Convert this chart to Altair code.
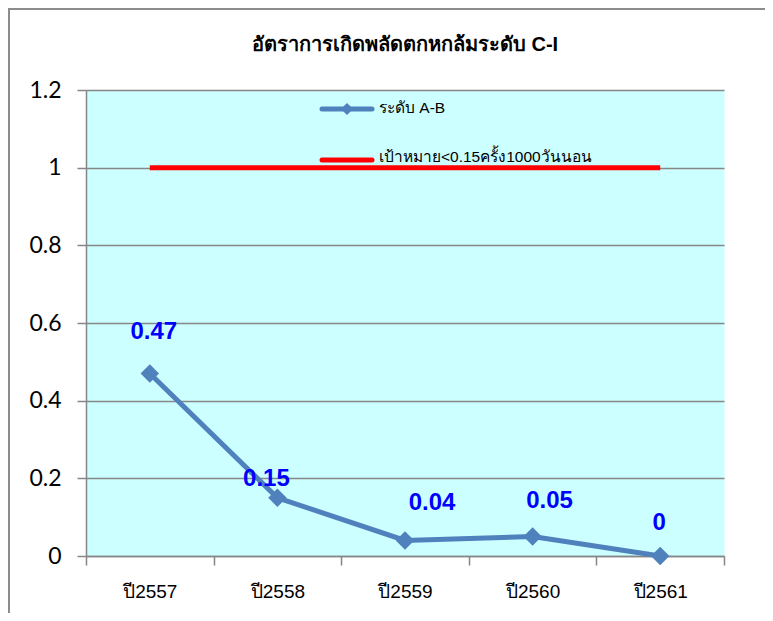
import altair as alt
import pandas as pd

years = ["ปี2557", "ปี2558", "ปี2559", "ปี2560", "ปี2561"]
rates = [0.47, 0.15, 0.04, 0.05, 0]
target = [1, 1, 1, 1, 1]
labels = ["0.47", "0.15", "0.04", "0.05", "0"]
y_ticks = [0, 0.2, 0.4, 0.6, 0.8, 1.0, 1.2]
chart_title = "อัตราการเกิดพลัดตกหกล้มระดับ C-I"
series_name = "ระดับ A-B"
target_name = "เป้าหมาย<0.15ครั้ง1000วันนอน"

# style: label nudges (dx, dy) in pixels relative to each point
label_nudge = [(4, -41), (-11, -19), (27, -37), (17, -36), (-1, -33)]

W, H = 638, 466
BLUE = "#4F81BD"
GRID = "#868686"

df = pd.DataFrame({"year": years, "rate": rates, "target": target, "label": labels})
one = pd.DataFrame({"a": [0]})

x = alt.X(
    "year:N", sort=years, title=None,
    scale=alt.Scale(type="band", paddingInner=0, paddingOuter=0),
    axis=alt.Axis(labelAngle=0, tickBand="extent", labelFontSize=19, labelFont="Liberation Sans",
                  labelColor="black", tickSize=9, tickColor=GRID, tickWidth=1.5,
                  domainColor=GRID, domainWidth=1.5, labelPadding=17, grid=False),
)
y_scale = alt.Scale(domain=[0, 1.2], nice=False)
y_axis = alt.Axis(values=y_ticks, format="~g", labelFontSize=23, labelFont="Lato",
                  labelColor="black", tickSize=9, tickColor=GRID, tickWidth=1.5,
                  domainColor=GRID, domainWidth=1.5, gridColor=GRID, gridWidth=1.5,
                  gridOpacity=1, labelPadding=16)
y_rate = alt.Y("rate:Q", scale=y_scale, title=None, axis=y_axis)

base = alt.Chart(df)

frame = alt.Chart(one).mark_rect(fill="transparent", stroke="#8c8c8c", strokeWidth=2).encode(
    x=alt.value(-77), x2=alt.value(W + 60), y=alt.value(-81), y2=alt.value(H + 80)
)

title_txt = alt.Chart(one).mark_text(fontSize=20, fontWeight="bold", font="Liberation Sans",
                                     color="black", align="center", baseline="middle").encode(
    x=alt.value(W / 2), y=alt.value(-45), text=alt.value(chart_title)
)

blue = base.mark_line(color=BLUE, strokeWidth=5).encode(x=x, y=y_rate)

red = base.mark_line(color="#FF0000", strokeWidth=5).encode(
    x=x, y=alt.Y("target:Q", scale=y_scale, title=None, axis=y_axis)
)

pts = base.mark_point(shape="diamond", filled=True, color=BLUE, size=340, opacity=1).encode(
    x=x, y=y_rate
)

label_layers = []
for yr, (ddx, ddy) in zip(years, label_nudge):
    label_layers.append(
        base.transform_filter(alt.datum.year == yr).mark_text(
            color="#0000FF", fontSize=24, fontWeight="bold", font="Liberation Sans",
            dx=ddx, dy=ddy
        ).encode(x=x, y=y_rate, text="label:N")
    )

leg1_line = alt.Chart(one).mark_rule(color=BLUE, strokeWidth=5, strokeCap="round").encode(
    x=alt.value(236), x2=alt.value(286), y=alt.value(19)
)
leg1_pt = alt.Chart(one).mark_point(shape="diamond", filled=True, color=BLUE, size=150, opacity=1).encode(
    x=alt.value(261), y=alt.value(19)
)
leg1_txt = alt.Chart(one).mark_text(align="left", baseline="middle", fontSize=15.5,
                                    font="Liberation Sans", color="black").encode(
    x=alt.value(293), y=alt.value(18), text=alt.value(series_name)
)
leg2_line = alt.Chart(one).mark_rule(color="#FF0000", strokeWidth=5, strokeCap="round").encode(
    x=alt.value(236), x2=alt.value(286), y=alt.value(70)
)
leg2_txt = alt.Chart(one).mark_text(align="left", baseline="middle", fontSize=15.5,
                                    font="Liberation Sans", color="black").encode(
    x=alt.value(293), y=alt.value(67), text=alt.value(target_name)
)

chart = alt.layer(
    frame, title_txt, blue, red, pts, *label_layers,
    leg1_line, leg1_pt, leg1_txt, leg2_line, leg2_txt
).properties(
    width=W, height=H,
    padding={"left": 78, "top": 82, "right": 41, "bottom": 57},
    autosize=alt.AutoSizeParams(type="none"),
).configure(background="white").configure_view(fill="#CCFFFF", stroke="transparent")

chart.save("out.html", embed_options={"renderer": "svg", "actions": False})
